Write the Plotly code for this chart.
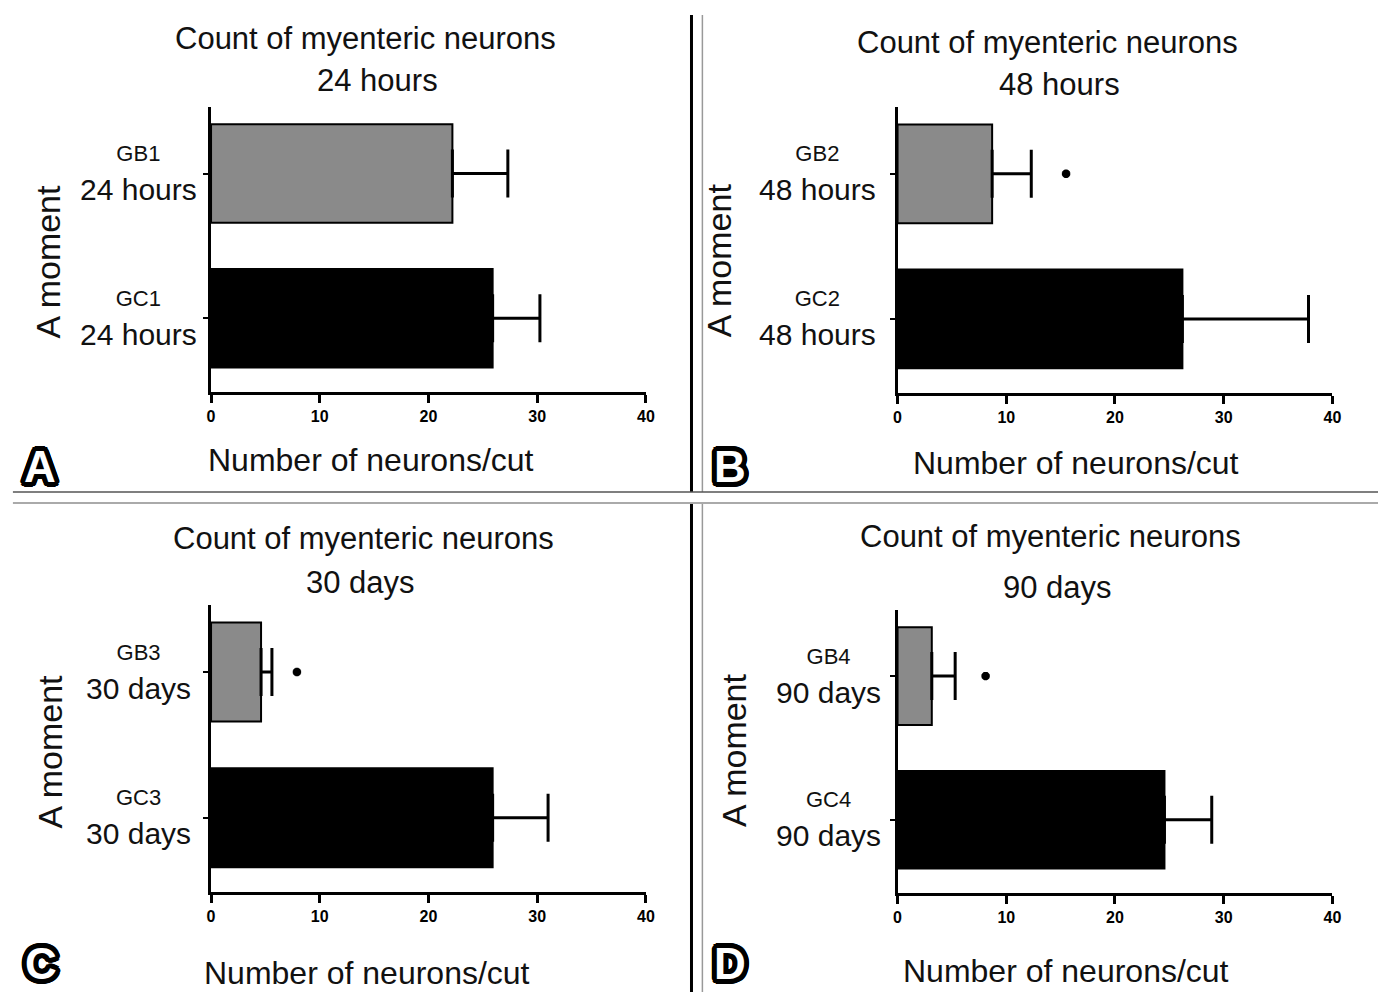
import math
import plotly.graph_objects as go

# ---------------- data ----------------
panel_letters = ["A", "B", "C", "D"]
time_labels = ["24 hours", "48 hours", "30 days", "90 days"]
gb_names = ["GB1", "GB2", "GB3", "GB4"]
gc_names = ["GC1", "GC2", "GC3", "GC4"]
gb_mean = [22.2, 8.7, 4.6, 3.15]
gb_err = [5.1, 3.6, 1.0, 2.15]
gc_mean = [25.9, 26.2, 25.9, 24.55]
gc_err = [4.35, 11.6, 5.1, 4.35]
sig_x = [None, 15.5, 7.9, 8.1]          # position of the "*" significance mark
x_ticks = [0, 10, 20, 30, 40]
title_text = "Count of myenteric neurons"
x_title = "Number of neurons/cut"
y_title = "A moment"

W, H = 1387, 992
def px(x):
    return x / W
def py(y):
    return 1 - y / H

# panel geometry in pixels: (x0, x1, ytop, ybottom)
geom = [(209, 648, 107, 392), (902, 1341, 107, 393),
        (209, 648, 605, 892), (902, 1341, 610, 893)]
# text positions (pixels)
title1_pos = [(365, 39), (1053, 42), (363, 538), (1056, 536)]
title2_pos = [(377, 80), (1065, 84), (360, 582), (1063, 587)]
xtitle_pos = [(370, 460), (1082, 463), (366, 973), (1072, 971)]
ytitle_pos = [(44, 262), (722, 260), (46, 752), (737, 750)]
catlab_x = [136, 821, 136, 832]
letter_pos = [(36, 466), (733, 466), (37, 963), (733, 963)]

FONT = "Liberation Sans, Arial, sans-serif"
fig = go.Figure()
annotations = []
layout_axes = {}

def paper_text(text, pos, size, **kw):
    d = dict(text=text, x=px(pos[0]), y=py(pos[1]), xref="paper", yref="paper",
             showarrow=False, xanchor="center", yanchor="middle",
             font=dict(family=FONT, size=size, color="#111"))
    d.update(kw)
    return d

outline = ", ".join(
    f"{round(r*math.cos(a), 2)}px {round(r*math.sin(a), 2)}px 0 #000"
    for r in (2, 4, 5) for a in [k*math.pi/12 for k in range(24)])

for i in range(4):
    x0, x1, yt, yb = geom[i]
    xa = "x" if i == 0 else f"x{i+1}"
    ya = "y" if i == 0 else f"y{i+1}"
    cats = [gc_names[i], gb_names[i]]
    fig.add_trace(go.Bar(
        x=[gc_mean[i], gb_mean[i]], y=cats, orientation="h",
        width=0.68,
        marker=dict(color=["#000000", "#8a8a8a"], line=dict(color="#000000", width=2)),
        error_x=dict(type="data", symmetric=False, array=[gc_err[i], gb_err[i]],
                     arrayminus=[0, 0], color="#000000", thickness=3, width=24),
        xaxis=xa, yaxis=ya, showlegend=False, hoverinfo="x+y"))
    if sig_x[i] is not None:
        fig.add_trace(go.Scatter(
            x=[sig_x[i]], y=[gb_names[i]], mode="markers",
            marker=dict(symbol="asterisk-open", size=7, color="#000",
                        line=dict(color="#000", width=3)),
            xaxis=xa, yaxis=ya, showlegend=False, hoverinfo="skip"))
    layout_axes["xaxis" if i == 0 else f"xaxis{i+1}"] = dict(
        domain=[px(x0), px(x1)], range=[0, 40], anchor=ya,
        tickvals=x_ticks, ticks="outside", ticklen=8, tickwidth=3, tickcolor="#000",
        showline=True, linewidth=3, linecolor="#000", showgrid=False, zeroline=False,
        tickfont=dict(family=FONT, size=16, color="#000", weight="bold"),
        fixedrange=True)
    layout_axes["yaxis" if i == 0 else f"yaxis{i+1}"] = dict(
        domain=[py(yb), py(yt)], anchor=xa, type="category",
        categoryorder="array", categoryarray=cats, range=[-0.51, 1.46],
        ticks="outside", ticklen=5, tickwidth=2, tickcolor="#000",
        showticklabels=False, showline=True, linewidth=3, linecolor="#000",
        showgrid=False, zeroline=False, fixedrange=True)
    annotations.append(paper_text(title_text, title1_pos[i], 31))
    annotations.append(paper_text(time_labels[i], title2_pos[i], 31))
    annotations.append(paper_text(x_title, xtitle_pos[i], 32))
    annotations.append(paper_text(y_title, ytitle_pos[i], 34, textangle=-90))
    for name in (gb_names[i], gc_names[i]):
        annotations.append(dict(
            text=f"<span style='font-size:22px'>{name}</span><br>{time_labels[i]}",
            x=px(catlab_x[i]), y=name, xref="paper", yref=ya, showarrow=False,
            align="center", xanchor="center", yanchor="middle",
            font=dict(family=FONT, size=30, color="#111")))
    annotations.append(paper_text(panel_letters[i], letter_pos[i], 44,
                                  font=dict(family=FONT, size=44, color="#fff",
                                            weight="bold", shadow=outline)))

shapes = []
for (ya0, ya1) in [(15, 492), (503, 992)]:
    shapes.append(dict(type="line", xref="paper", yref="paper", x0=px(694), x1=px(694),
                       y0=py(ya0), y1=py(ya1), line=dict(color="#000", width=3)))
    shapes.append(dict(type="line", xref="paper", yref="paper", x0=px(705), x1=px(705),
                       y0=py(ya0), y1=py(ya1), line=dict(color="#999", width=1.5)))
shapes.append(dict(type="line", xref="paper", yref="paper", x0=px(9), x1=1,
                   y0=py(492), y1=py(492), line=dict(color="#555", width=1.5)))
shapes.append(dict(type="line", xref="paper", yref="paper", x0=px(9), x1=1,
                   y0=py(503), y1=py(503), line=dict(color="#aaa", width=2)))

fig.update_layout(width=W, height=H, margin=dict(l=0, r=0, t=0, b=0),
                  paper_bgcolor="#fff", plot_bgcolor="#fff",
                  annotations=annotations, shapes=shapes, bargap=0.3,
                  **layout_axes)
fig.write_html("out.html", config={"displayModeBar": False},
               post_script="document.body.style.margin='0';document.documentElement.style.overflow='hidden';")
